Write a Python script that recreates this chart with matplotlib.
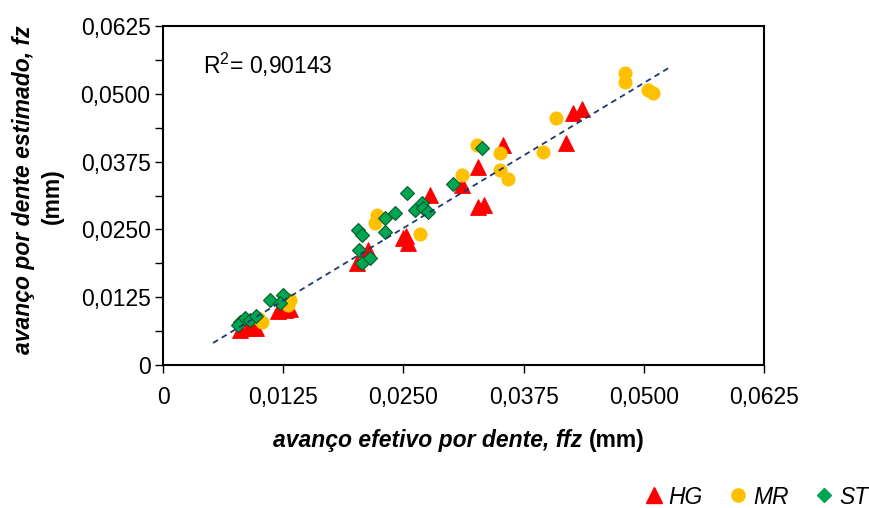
import matplotlib
matplotlib.use("Agg")
import matplotlib.pyplot as plt
from matplotlib.lines import Line2D
from matplotlib.offsetbox import TextArea, HPacker, AnchoredOffsetbox
import numpy as np

plt.rcParams['font.family'] = ['Liberation Sans', 'DejaVu Sans']
plt.rcParams['mathtext.fontset'] = 'custom'
plt.rcParams['mathtext.rm'] = 'Liberation Sans'
plt.rcParams['mathtext.default'] = 'regular'

# Effective vs. estimated feed per tooth (mm), by material
hg_x = [0.0080, 0.0088, 0.0097, 0.0093, 0.0120, 0.0127, 0.0132,
        0.0202, 0.0213, 0.0250, 0.0255, 0.0253, 0.0278, 0.0311,
        0.0328, 0.0354, 0.0328, 0.0334, 0.0419, 0.0426, 0.0436]
hg_y = [0.0065, 0.0068, 0.0068, 0.0074, 0.0100, 0.0101, 0.0103,
        0.0188, 0.0212, 0.0234, 0.0225, 0.0238, 0.0313, 0.0332,
        0.0365, 0.0406, 0.0292, 0.0295, 0.0409, 0.0465, 0.0472]

mr_x = [0.0099, 0.0103, 0.0130, 0.0132, 0.0223, 0.0220, 0.0267,
        0.0311, 0.0327, 0.0350, 0.0350, 0.0359, 0.0395, 0.0409,
        0.0480, 0.0480, 0.0504, 0.0510]
mr_y = [0.0087, 0.0079, 0.0111, 0.0120, 0.0277, 0.0262, 0.0242,
        0.0350, 0.0406, 0.0391, 0.0360, 0.0343, 0.0393, 0.0455,
        0.0538, 0.0522, 0.0507, 0.0501]

st_x = [0.0080, 0.0085, 0.0090, 0.0078, 0.0097, 0.0111, 0.0125,
        0.0122, 0.0203, 0.0207, 0.0204, 0.0207, 0.0215, 0.0231,
        0.0231, 0.0241, 0.0254, 0.0262, 0.0269, 0.0270, 0.0276,
        0.0302, 0.0332]
st_y = [0.0079, 0.0087, 0.0083, 0.0074, 0.0090, 0.0120, 0.0129,
        0.0114, 0.0249, 0.0240, 0.0212, 0.0188, 0.0197, 0.0245,
        0.0271, 0.0280, 0.0317, 0.0286, 0.0299, 0.0289, 0.0282,
        0.0334, 0.0400]

# Linear trend line
trend_slope = 1.07
trend_intercept = -0.0015
trend_x_range = [0.0052, 0.0526]
r2_label = 'R$^{2}$= 0,90143'

tick_values = [0, 0.0125, 0.0250, 0.0375, 0.0500, 0.0625]
tick_labels = ['0', '0,0125', '0,0250', '0,0375', '0,0500', '0,0625']

series_names = ['HG', 'MR', 'ST']

RED = '#FF0000'
GOLD = '#FFC000'
GREEN = '#00A651'
FS = 16.5

fig = plt.figure(figsize=(8.7, 5.08), dpi=100)
ax = fig.add_axes([0.1874, 0.2815, 0.6908, 0.6673])

ax.plot(hg_x, hg_y, linestyle='none', marker='^', markersize=11,
        color=RED, markeredgecolor=RED, markeredgewidth=0.6, zorder=3)
ax.plot(mr_x, mr_y, linestyle='none', marker='o', markersize=9.5,
        color=GOLD, markeredgecolor=GOLD, markeredgewidth=0.6, zorder=4)
ax.plot(st_x, st_y, linestyle='none', marker='D', markersize=7.5,
        color=GREEN, markeredgecolor='#0B5A2C', markeredgewidth=0.8, zorder=5)

tx = np.array(trend_x_range)
ax.plot(tx, trend_slope * tx + trend_intercept, linestyle=(0, (3.2, 2.4)),
        color='#1F3A6E', linewidth=1.3, zorder=6)

ax.set_xlim(0, 0.0625)
ax.set_ylim(0, 0.0625)
ax.set_xticks(tick_values)
ax.set_xticklabels(tick_labels)
ax.set_yticks(tick_values)
ax.set_yticklabels(tick_labels)
ax.set_yticks([v + 0.00625 for v in tick_values[:-1]], minor=True)
ax.tick_params(axis='both', which='major', direction='out', length=6,
               width=1.0, labelsize=FS, colors='black')
ax.tick_params(axis='x', pad=9)
ax.tick_params(axis='y', pad=3)
ax.tick_params(axis='y', which='minor', direction='out', length=6, width=1.0)
for sp in ax.spines.values():
    sp.set_linewidth(1.5)
    sp.set_color('black')

ax.text(0.0666, 0.885, r2_label, transform=ax.transAxes, fontsize=FS,
        ha='left', va='center')

# y-axis title on two lines
fig.text(24 / 870, 1 - 190 / 508, 'avanço por dente estimado, fz', rotation=90,
         fontsize=FS, fontweight='bold', style='italic', ha='center', va='center')
fig.text(52 / 870, 1 - 196 / 508, '(mm)', rotation=90,
         fontsize=FS, fontweight='bold', ha='center', va='center')

# x-axis title with mixed styles
xl = HPacker(children=[
    TextArea('avanço efetivo por dente, ffz ',
             textprops=dict(fontsize=FS, fontweight='bold', style='italic')),
    TextArea('(mm)', textprops=dict(fontsize=FS, fontweight='bold')),
], align='baseline', pad=0, sep=0)
box = AnchoredOffsetbox(loc='center', child=xl, frameon=False, pad=0,
                        bbox_to_anchor=(459 / 870, 1 - 440 / 508),
                        bbox_transform=fig.transFigure, borderpad=0)
fig.add_artist(box)

handles = [
    Line2D([], [], linestyle='none', marker='^', markersize=11, color=RED),
    Line2D([], [], linestyle='none', marker='o', markersize=9.5, color=GOLD),
    Line2D([], [], linestyle='none', marker='D', markersize=7.5, color=GREEN,
           markeredgecolor=GREEN),
]
fig.legend(handles, series_names, loc='center right', ncol=3,
           bbox_to_anchor=(0.998, 1 - 497 / 508), frameon=False,
           prop=dict(size=FS, style='italic'), handlelength=0.7,
           handletextpad=0.3, columnspacing=1.2, borderpad=0, borderaxespad=0)

fig.savefig('out.png', dpi=100)
